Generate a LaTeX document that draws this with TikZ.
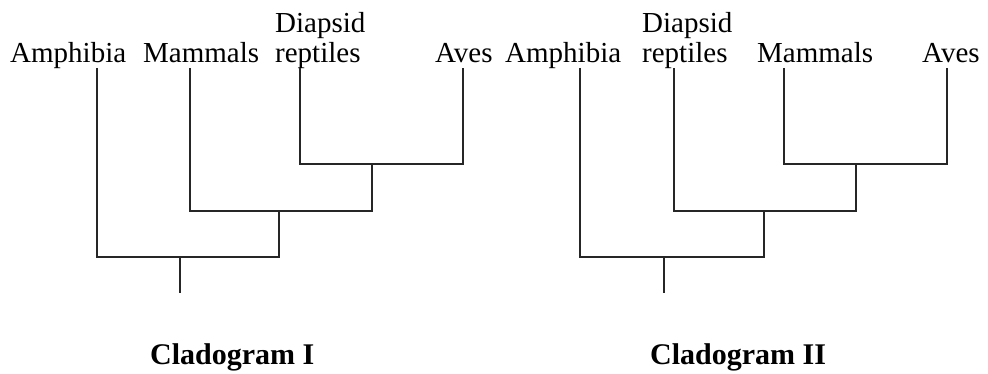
\documentclass[tikz,border=0pt]{standalone}
\usepackage{fontspec}
\setmainfont{Liberation Serif}
\begin{document}
\begin{tikzpicture}[x=1pt, y=-1pt,
  taxon/.style={inner sep=0pt, anchor=base west, align=left, font=\fontsize{29}{30}\selectfont},
  title/.style={inner sep=0pt, anchor=base west, font=\fontsize{30}{32}\selectfont\bfseries},
  branch/.style={draw=black!85, line width=1.3pt}]
\useasboundingbox (0,0) rectangle (988,374);
% Cladogram I
\node[taxon] (amph1) at (10,63) {Amphibia};
\node[taxon] (mamm1) at (143,63) {Mammals};
\node[taxon] (diap1) at (275,63) {Diapsid\\reptiles};
\node[taxon] (aves1) at (435,63) {Aves};
\coordinate (amph1-t) at (97,68);
\coordinate (mamm1-t) at (190,68);
\coordinate (diap1-t) at (300,68);
\coordinate (aves1-t) at (463,68);
\coordinate (k1-1) at (372,164);
\coordinate (k1-2) at (279,211);
\coordinate (k1-3) at (180,257);
\coordinate (root1) at (180,293);
\draw[branch] (diap1-t) |- (k1-1) -| (aves1-t);
\draw[branch] (mamm1-t) |- (k1-2) -| (k1-1);
\draw[branch] (amph1-t) |- (k1-3) -| (k1-2);
\draw[branch] (k1-3) -- (root1);
\node[title] (clad1) at (150,364) {Cladogram I};
% Cladogram II
\node[taxon] (amph2) at (505,63) {Amphibia};
\node[taxon] (diap2) at (642,63) {Diapsid\\reptiles};
\node[taxon] (mamm2) at (757,63) {Mammals};
\node[taxon] (aves2) at (922,63) {Aves};
\coordinate (amph2-t) at (580,68);
\coordinate (diap2-t) at (674,68);
\coordinate (mamm2-t) at (784,68);
\coordinate (aves2-t) at (947,68);
\coordinate (k2-1) at (856,164);
\coordinate (k2-2) at (764,211);
\coordinate (k2-3) at (664,257);
\coordinate (root2) at (664,293);
\draw[branch] (mamm2-t) |- (k2-1) -| (aves2-t);
\draw[branch] (diap2-t) |- (k2-2) -| (k2-1);
\draw[branch] (amph2-t) |- (k2-3) -| (k2-2);
\draw[branch] (k2-3) -- (root2);
\node[title] (clad2) at (650,364) {Cladogram II};
\end{tikzpicture}
\end{document}
